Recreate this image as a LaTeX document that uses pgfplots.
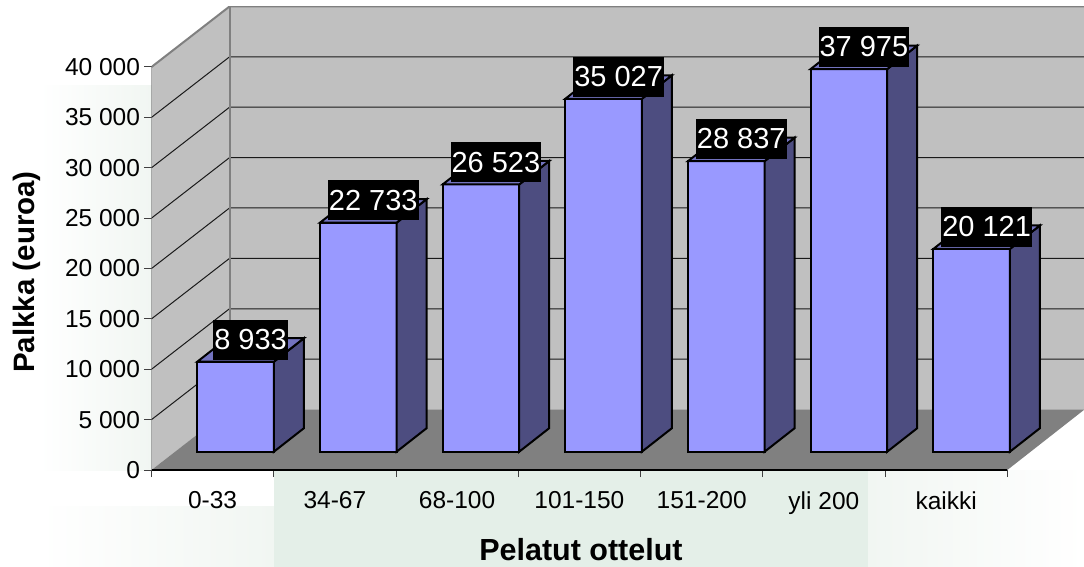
\documentclass[border=0pt]{standalone}
\usepackage{fontspec}
\setmainfont{Liberation Sans}
\usepackage{pgfplots}
\pgfplotsset{compat=1.18}

\definecolor{wallgray}{HTML}{C0C0C0}
\definecolor{floorgray}{HTML}{808080}
\definecolor{barfront}{HTML}{9999FF}
\definecolor{barside}{HTML}{4D4D80}
\definecolor{bartop}{HTML}{7373BF}
\definecolor{gridc}{HTML}{1A1A1A}
\definecolor{axisc}{HTML}{404040}
\definecolor{washa}{HTML}{E4EFE8}
\definecolor{washb}{HTML}{F1F6F2}

% x is in pixels from the left end of the axis, y in euros
% bar front stands 1816 euros up the depth, its own depth is (30, 2333)
\newcommand\threedbar[2]{%
  \pgfmathsetmacro\xa{#1}%
  \pgfmathsetmacro\xb{#1+76.6}%
  \pgfmathsetmacro\xc{#1+106.6}%
  \pgfmathsetmacro\xd{#1+30}%
  \edef\ya{1816}%
  \edef\yb{\the\numexpr1816+#2\relax}%
  \edef\yc{\the\numexpr1816+2333\relax}%
  \edef\yd{\the\numexpr1816+2333+#2\relax}%
  \addplot[barline, fill=barfront] coordinates {(\xa,\ya)(\xb,\ya)(\xb,\yb)(\xa,\yb)} --cycle;
  \addplot[barline, fill=barside] coordinates {(\xb,\ya)(\xc,\yc)(\xc,\yd)(\xb,\yb)} --cycle;
  \addplot[barline, fill=bartop] coordinates {(\xa,\yb)(\xb,\yb)(\xc,\yd)(\xd,\yd)} --cycle;
}

\begin{document}
\begin{tikzpicture}[x=1pt,y=1pt]
\useasboundingbox (0,0) rectangle (1084,566);
% pale watermark behind the chart
\shade[left color=white, right color=washb] (40,0) rectangle (274,60);
\shade[left color=white, right color=washb] (40,96) rectangle (152,480);
\shade[left color=washa, middle color=washa!55!white, right color=washa] (274,0) rectangle (868,96);
\shade[left color=washb, right color=white] (868,0) rectangle (1084,96);
\begin{axis}[
    at={(151.5pt,96pt)}, anchor=south west,
    scale only axis,
    width=933pt, height=463.5pt,
    xmin=0, xmax=933,
    ymin=0, ymax=46005,
    axis line style={draw=none},
    axis x line*=bottom, axis y line*=left,
    tick align=outside,
    font=\fontsize{24.5}{28}\selectfont,
    xtick={61.1,183.4,305.6,427.9,550.2,672.4,794.7},
    xticklabels={0-33,34-67,68-100,101-150,151-200,yli 200,kaikki},
    minor xtick={0,122.3,244.5,366.8,489,611.3,733.6,855.8},
    major x tick style={draw=none},
    minor x tick style={axisc, line width=1pt},
    minor tick length=7pt,
    major tick length=7pt,
    xticklabel style={yshift=-11pt},
    ytick={0,5000,10000,15000,20000,25000,30000,35000,40000},
    yticklabels={0,5 000,10 000,15 000,20 000,25 000,30 000,35 000,40 000},
    y tick style={axisc, line width=1pt},
    yticklabel style={xshift=-1pt},
    xlabel={\textbf{Pelatut ottelut}},
    ylabel={\textbf{Palkka (euroa)}},
    xlabel style={font=\fontsize{30.5}{34}\selectfont, anchor=center, at={(axis description cs:0.4603,-0.1726)}},
    ylabel style={font=\fontsize{29.5}{34}\selectfont, anchor=center, at={(axis description cs:-0.1334,0.4272)}},
    barline/.style={draw=black, line width=2pt, line join=miter, mark=none},
]
% walls and floor
\addplot[draw=none, fill=wallgray, mark=none] coordinates {(0,0)(78,6005)(78,46005)(0,40000)} --cycle;
\addplot[draw=none, fill=wallgray, mark=none] coordinates {(78,6005)(933,6005)(933,46005)(78,46005)} --cycle;
\addplot[draw=none, fill=floorgray, mark=none] coordinates {(0,0)(855.8,0)(933,6005)(78,6005)} --cycle;

% gridlines, side wall then back wall
\addplot[gridc, line width=1pt, mark=none] coordinates {(0,5000)(78,11005)(933,11005)};
\addplot[gridc, line width=1pt, mark=none] coordinates {(0,10000)(78,16005)(933,16005)};
\addplot[gridc, line width=1pt, mark=none] coordinates {(0,15000)(78,21005)(933,21005)};
\addplot[gridc, line width=1pt, mark=none] coordinates {(0,20000)(78,26005)(933,26005)};
\addplot[gridc, line width=1pt, mark=none] coordinates {(0,25000)(78,31005)(933,31005)};
\addplot[gridc, line width=1pt, mark=none] coordinates {(0,30000)(78,36005)(933,36005)};
\addplot[gridc, line width=1pt, mark=none] coordinates {(0,35000)(78,41005)(933,41005)};

% wall edges
\addplot[floorgray, line width=2pt, mark=none] coordinates {(78,6005)(78,46005)};
\addplot[floorgray, line width=2pt, mark=none] coordinates {(0,40000)(78,46005)(933,46005)};
\addplot[axisc, line width=1.5pt, mark=none] coordinates {(0,0)(0,40000)};
\addplot[black, line width=1.5pt, mark=none] coordinates {(0,0)(855.8,0)};

% bars
\threedbar{45.8}{8933}
\threedbar{168.5}{22733}
\threedbar{291.1}{26523}
\threedbar{413.8}{35027}
\threedbar{536.5}{28837}
\threedbar{659.1}{37975}
\threedbar{781.8}{20121}

% value labels
\addplot[draw=none, mark=none, point meta=explicit symbolic,
    nodes near coords,
    every node near coord/.append style={
        fill=black, text=white, anchor=south, inner xsep=1pt, inner ysep=0pt,
        minimum height=40pt, yshift=2pt,
        font=\fontsize{29}{32}\selectfont},
    ] coordinates {
    (99.1,10749)[8 933]
    (221.8,24549)[22 733]
    (344.4,28339)[26 523]
    (467.1,36843)[35 027]
    (589.8,30653)[28 837]
    (712.4,39791)[37 975]
    (835.1,21937)[20 121]
};
\end{axis}
\end{tikzpicture}
\end{document}
